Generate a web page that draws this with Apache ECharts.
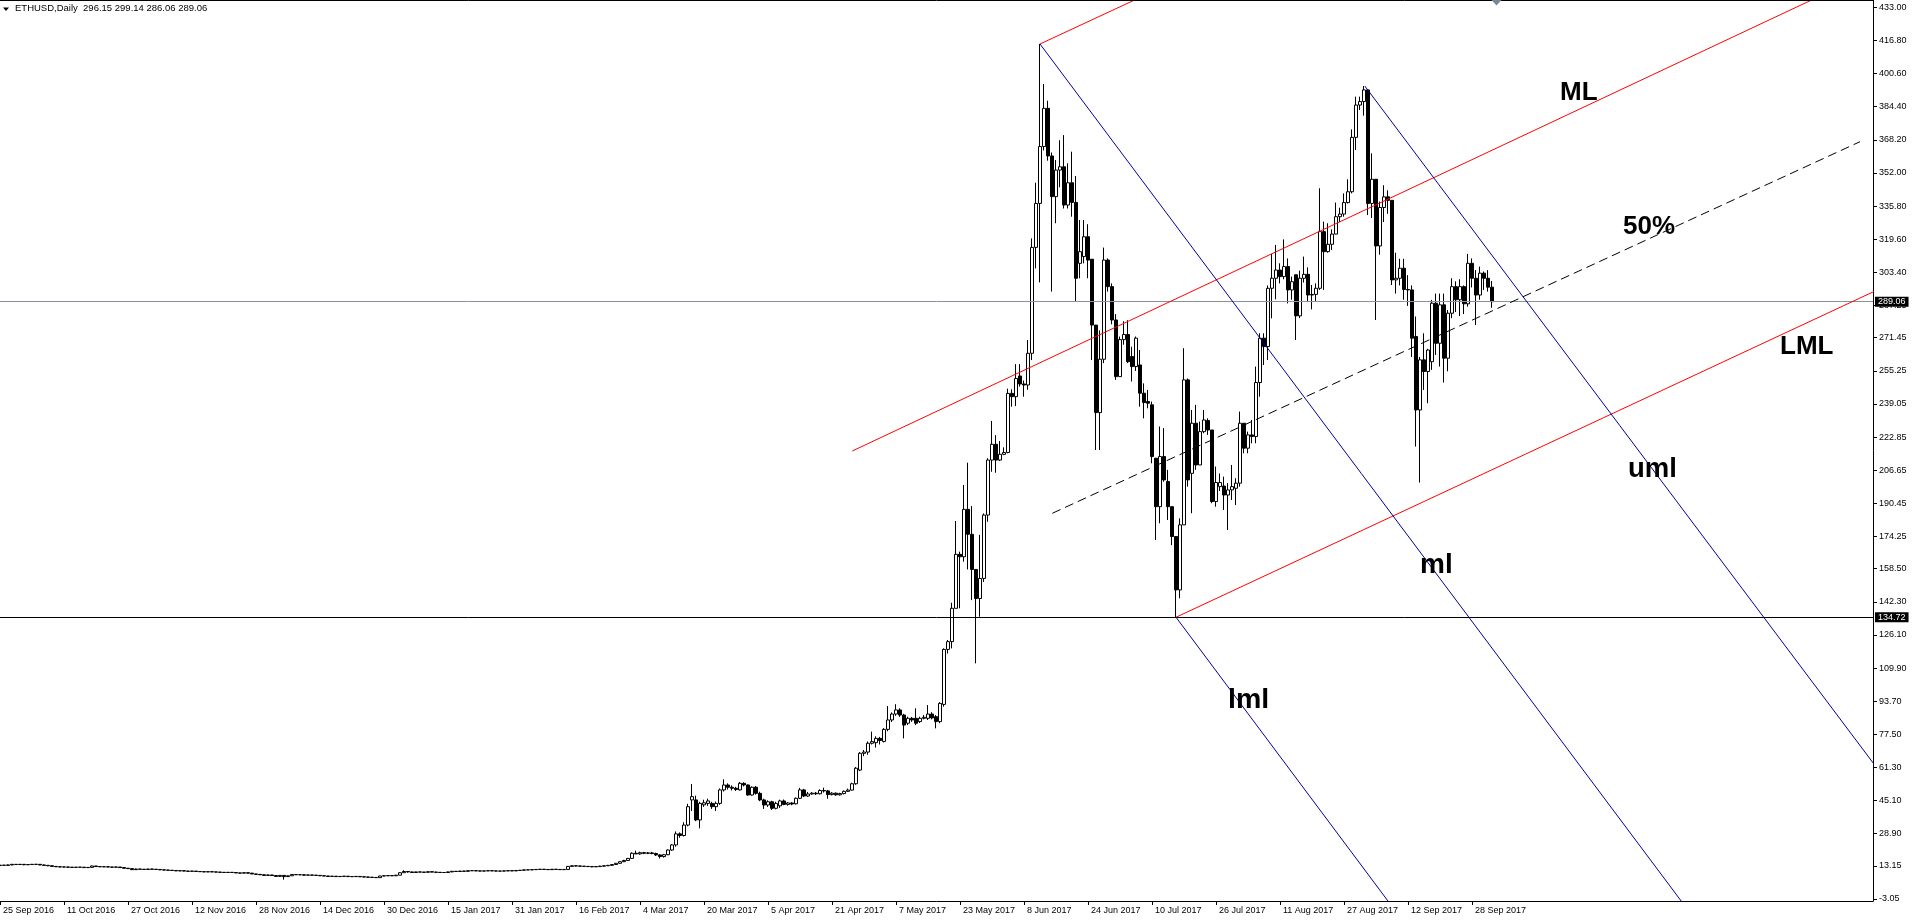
<!DOCTYPE html>
<html><head><meta charset="utf-8">
<script src="https://cdn.jsdelivr.net/npm/echarts@6/dist/echarts.min.js"></script>
<style>html,body{margin:0;padding:0;background:#fff;}#c{width:1913px;height:921px;}</style>
</head><body><div id="c"></div>
<script>
// ---- Data (daily ETHUSD bars, first bar = 25 Sep 2016, rows are [open, high, low, close]) ----
const xTickLabels = ["25 Sep 2016","11 Oct 2016","27 Oct 2016","12 Nov 2016","28 Nov 2016","14 Dec 2016","30 Dec 2016","15 Jan 2017","31 Jan 2017","16 Feb 2017","4 Mar 2017","20 Mar 2017","5 Apr 2017","21 Apr 2017","7 May 2017","23 May 2017","8 Jun 2017","24 Jun 2017","10 Jul 2017","26 Jul 2017","11 Aug 2017","27 Aug 2017","12 Sep 2017","28 Sep 2017"];
const yTickLabels = ["-3.05","13.15","28.90","45.10","61.30","77.50","93.70","109.90","126.10","142.30","158.50","174.25","190.45","206.65","222.85","239.05","255.25","271.45","287.25","303.40","319.60","335.80","352.00","368.20","384.40","400.60","416.80","433.00"];

const sep2016 = [[13.3,13.7,13.1,13.5],[13.5,13.6,13.2,13.4],[13.4,13.8,13.3,13.6],[13.6,14.1,13.5,13.9],[13.9,14.0,13.6,13.8],[13.8,14.1,13.7,13.9]];
const oct2016 = [[13.9,14.0,13.5,13.7],[13.7,13.9,13.6,13.8],[13.8,14.1,13.7,13.9],[13.9,14.0,13.7,13.9],[13.9,13.9,13.5,13.6],[13.6,13.7,13.3,13.4],[13.4,13.5,13.0,13.2],[13.2,13.3,12.8,12.9],[12.9,13.0,12.6,12.7],[12.7,12.8,12.5,12.6],[12.6,12.8,12.5,12.6],[12.6,12.7,12.4,12.5],[12.5,12.6,12.3,12.4],[12.4,12.6,12.3,12.5],[12.5,12.6,12.4,12.5],[12.5,12.5,12.2,12.3],[12.3,12.5,12.2,12.4],[12.4,13.3,12.4,13.1],[13.1,13.1,12.7,12.8],[12.8,12.9,12.6,12.7],[12.7,12.8,12.6,12.7],[12.7,12.7,12.5,12.6],[12.6,12.6,12.4,12.5],[12.5,12.7,12.4,12.6],[12.6,12.6,12.2,12.3],[12.3,12.3,11.9,12.0],[12.0,12.1,11.7,11.8],[11.8,11.9,11.1,11.3],[11.3,11.8,11.2,11.6],[11.6,11.7,11.4,11.5],[11.5,11.6,11.3,11.4]];
const nov2016 = [[11.4,11.7,11.3,11.6],[11.6,11.7,11.4,11.5],[11.5,11.6,11.3,11.4],[11.4,11.5,11.1,11.2],[11.2,11.3,11.0,11.1],[11.1,11.2,10.9,11.0],[11.0,11.1,10.8,10.9],[10.9,11.0,10.6,10.7],[10.7,10.9,10.6,10.8],[10.8,10.8,10.5,10.6],[10.6,10.7,10.4,10.5],[10.5,10.7,10.4,10.6],[10.6,10.6,10.3,10.4],[10.4,10.5,10.2,10.3],[10.3,10.4,10.1,10.2],[10.2,10.4,10.1,10.3],[10.3,10.3,10.1,10.2],[10.2,10.3,10.0,10.1],[10.1,10.2,9.9,10.0],[10.0,10.1,9.8,9.9],[9.9,10.1,9.8,10.0],[10.0,10.0,9.8,9.9],[9.9,10.0,9.6,9.7],[9.7,9.8,9.5,9.6],[9.6,9.9,9.5,9.8],[9.8,9.8,9.5,9.6],[9.6,9.7,9.1,9.2],[9.2,9.3,8.9,9.0],[9.0,9.1,8.7,8.8],[8.8,8.9,8.4,8.5]];
const dec2016 = [[8.5,8.9,8.4,8.7],[8.7,8.8,8.3,8.4],[8.4,8.5,7.8,8.0],[8.0,8.6,7.9,8.5],[8.5,8.6,6.4,7.9],[7.9,8.4,7.7,8.3],[8.3,9.1,8.2,8.9],[8.9,9.0,8.7,8.8],[8.8,8.9,8.7,8.8],[8.8,8.8,8.5,8.6],[8.6,8.8,8.5,8.7],[8.7,8.7,8.5,8.6],[8.6,8.7,8.4,8.5],[8.5,8.5,8.2,8.3],[8.3,8.4,8.1,8.2],[8.2,8.2,7.9,8.0],[8.0,8.2,7.9,8.1],[8.1,8.1,7.8,7.9],[7.9,8.1,7.8,8.0],[8.0,8.2,7.9,8.1],[8.1,8.1,7.8,7.9],[7.9,8.0,7.8,7.9],[7.9,8.1,7.8,8.0],[8.0,8.0,7.7,7.8],[7.8,7.9,7.6,7.7],[7.7,7.8,7.5,7.6],[7.6,7.7,7.4,7.5],[7.5,7.6,7.2,7.4],[7.4,8.3,7.4,8.2],[8.2,8.4,8.1,8.3],[8.3,8.5,8.2,8.4]];
const jan2017 = [[8.4,8.5,8.2,8.3],[8.3,8.7,8.2,8.6],[8.6,10.0,8.6,9.8],[9.8,11.0,9.7,10.4],[10.4,10.6,9.8,10.2],[10.2,10.3,9.7,9.9],[9.9,10.3,9.8,10.2],[10.2,10.3,10.0,10.1],[10.1,10.2,9.9,10.0],[10.0,10.4,9.9,10.3],[10.3,10.4,10.0,10.1],[10.1,10.2,9.9,10.0],[10.0,10.1,9.8,9.9],[9.9,10.0,9.8,9.9],[9.9,10.3,9.8,10.2],[10.2,10.6,10.1,10.5],[10.5,10.6,10.3,10.4],[10.4,10.7,10.3,10.6],[10.6,10.7,10.4,10.5],[10.5,10.9,10.4,10.8],[10.8,10.9,10.7,10.8],[10.8,10.9,10.6,10.7],[10.7,10.8,10.5,10.6],[10.6,10.8,10.5,10.7],[10.7,10.9,10.6,10.8],[10.8,10.8,10.6,10.7],[10.7,10.8,10.5,10.6],[10.6,10.7,10.5,10.6],[10.6,10.8,10.5,10.7],[10.7,10.9,10.6,10.8],[10.8,10.8,10.6,10.7]];
const feb2017 = [[10.7,11.0,10.6,10.9],[10.9,11.1,10.8,11.0],[11.0,11.3,10.9,11.2],[11.2,11.3,11.1,11.2],[11.2,11.4,11.1,11.3],[11.3,11.5,11.2,11.4],[11.4,11.6,11.3,11.5],[11.5,11.6,11.3,11.4],[11.4,11.5,11.2,11.3],[11.3,11.6,11.2,11.5],[11.5,11.6,11.3,11.4],[11.4,11.5,11.2,11.3],[11.3,11.5,11.2,11.4],[11.4,13.1,11.3,12.9],[12.9,13.4,12.8,13.2],[13.2,13.3,12.9,13.1],[13.1,13.2,12.8,13.0],[13.0,13.1,12.7,12.9],[12.9,13.0,12.6,12.8],[12.8,12.9,12.5,12.7],[12.7,13.0,12.6,12.8],[12.8,13.2,12.7,13.0],[13.0,13.4,12.9,13.2],[13.2,13.6,13.1,13.4],[13.4,14.0,13.3,13.8],[13.8,14.6,13.6,14.4],[14.4,15.4,14.2,15.2],[15.2,16.1,15.0,15.8]];
const mar2017 = [[15.8,17.0,15.6,16.8],[16.8,19.8,16.6,19.3],[19.3,20.6,18.9,19.0],[19.0,20.1,18.6,19.6],[19.6,20.0,18.9,19.3],[19.3,19.9,18.9,19.5],[19.5,20.0,18.8,19.2],[19.2,19.6,18.0,18.5],[18.5,18.8,16.8,17.7],[17.7,19.0,17.2,18.6],[18.6,21.2,18.4,20.9],[20.9,23.8,20.5,23.4],[23.4,30.0,22.5,28.8],[28.8,29.5,26.9,28.0],[28.0,34.5,27.5,33.1],[33.1,43.5,32.5,42.1],[45.4,53.2,40.0,47.0],[45.4,47.5,35.0,35.6],[35.6,44.5,31.5,43.7],[43.0,45.5,42.0,44.0],[43.7,46.0,42.5,44.9],[43.7,44.5,41.0,42.1],[42.1,44.6,40.0,43.7],[43.7,51.0,43.0,50.3],[50.3,55.5,49.5,52.7],[52.7,53.5,50.5,51.6],[51.6,52.5,50.0,51.1],[51.1,51.8,49.8,50.5],[50.3,54.2,50.0,53.5],[53.5,54.0,52.0,52.7],[52.7,53.0,47.5,47.8]];
const apr2017 = [[47.8,52.0,47.5,51.6],[51.6,52.2,48.0,48.6],[48.6,49.4,44.8,45.4],[45.4,46.0,41.0,42.9],[42.9,45.2,42.0,44.5],[44.5,45.0,40.5,41.3],[41.3,44.5,40.8,43.7],[42.5,45.5,41.5,44.9],[44.9,45.6,42.8,43.2],[43.2,44.4,42.6,43.9],[43.9,44.3,42.8,43.4],[43.5,46.6,43.2,46.2],[46.2,51.3,45.8,50.3],[50.3,50.8,46.8,47.3],[47.3,49.3,46.9,48.3],[48.3,49.2,48.0,48.7],[48.7,49.3,47.8,48.4],[48.4,50.6,48.1,50.0],[50.0,51.4,49.0,49.8],[49.8,50.3,46.0,48.0],[48.0,49.2,47.6,48.7],[48.7,49.0,47.4,47.9],[47.9,48.9,47.5,48.5],[48.5,50.0,48.1,49.6],[49.6,50.9,49.3,50.2],[50.2,53.8,50.0,53.3],[53.3,61.5,52.8,60.9],[60.0,68.8,59.5,68.2],[68.2,69.8,66.8,68.8],[68.8,74.0,67.5,73.1]];
const may2017 = [[73.1,78.8,72.5,73.9],[73.4,76.5,71.0,75.5],[75.5,76.2,72.5,74.5],[74.0,80.5,73.5,79.9],[79.9,91.3,79.0,84.5],[84.5,88.2,83.5,87.4],[87.4,92.2,86.5,89.4],[89.4,90.2,86.0,86.9],[86.9,87.5,75.5,82.0],[82.9,86.1,82.0,85.3],[85.3,86.0,83.6,84.5],[85.3,90.2,82.0,82.9],[83.7,86.1,83.0,85.3],[85.3,86.9,84.8,85.8],[85.3,91.8,84.5,87.4],[87.4,88.3,84.8,85.5],[86.1,86.9,80.4,83.7],[83.7,93.2,82.9,92.6],[92.1,119.5,91.0,119.0],[119.0,123.6,117.0,122.8],[122.8,141.8,119.5,139.1],[139.1,181.8,139.1,165.5],[165.5,166.8,139.1,164.3],[164.3,199.4,161.9,187.5],[187.5,210.3,158.1,175.3],[175.3,189.1,143.1,158.1],[158.1,158.1,112.2,143.9],[143.9,175.0,135.0,153.7],[153.7,185.5,152.0,184.7],[184.7,212.5,181.4,211.6],[211.6,230.7,205.9,219.3]];
const jun2017 = [[219.3,223.8,205.4,211.6],[211.6,220.9,211.1,214.4],[214.4,217.8,214.0,215.3],[215.3,246.5,214.9,244.2],[244.2,246.2,237.7,242.6],[242.6,258.5,238.0,251.5],[252.7,258.5,247.5,248.8],[248.8,250.5,242.6,248.3],[248.3,270.3,246.0,263.8],[263.8,320.0,260.5,315.6],[315.6,347.2,305.3,337.1],[337.1,415.1,298.5,364.9],[364.9,395.5,363.0,383.6],[383.6,387.3,358.0,360.3],[360.3,362.0,294.0,340.4],[340.4,358.3,327.4,353.4],[353.4,368.0,345.0,355.0],[355.0,370.5,334.6,336.3],[336.3,356.7,334.6,347.2],[347.2,362.4,330.6,337.6],[337.6,350.5,289.1,300.5],[307.8,329.0,300.5,313.5],[311.1,329.0,307.8,320.8],[320.8,326.9,300.5,309.4],[309.8,309.8,260.5,277.6],[277.6,277.6,216.5,234.8],[234.8,275.0,216.5,260.9],[260.9,315.5,259.0,309.4],[309.4,310.2,294.0,296.4],[296.4,298.0,278.0,280.1]];
const jul2017 = [[280.1,283.0,250.8,252.4],[252.4,272.0,252.4,270.5],[270.5,279.5,268.0,273.0],[273.0,280.0,259.0,259.7],[262.2,267.0,250.0,257.3],[257.3,272.0,255.2,271.2],[258.1,265.4,237.7,244.3],[244.3,249.1,232.0,239.7],[240.2,245.9,236.9,239.4],[238.6,240.2,210.0,213.3],[212.5,212.5,172.5,188.8],[188.8,228.0,180.7,213.3],[213.3,227.2,201.0,201.9],[201.1,206.8,182.3,188.8],[188.8,188.8,170.0,174.2],[174.2,174.2,134.72,148.1],[148.1,183.1,144.0,179.9],[179.9,266.3,179.9,250.8],[250.8,251.5,198.6,201.9],[205.1,236.1,185.6,229.6],[229.6,238.6,206.8,209.2],[209.2,230.4,209.2,225.5],[225.5,236.1,224.7,231.2],[230.9,232.0,223.9,226.3],[226.3,226.3,190.5,191.3],[191.3,208.4,188.8,200.6],[198.6,205.0,196.5,200.6],[198.9,203.5,187.2,194.5],[194.5,200.3,177.4,197.0],[197.0,209.2,192.1,198.6],[197.8,202.7,189.6,200.3]];
const aug2017 = [[200.3,235.3,198.6,229.6],[229.6,229.6,214.9,217.4],[217.4,225.5,214.9,223.9],[223.9,231.2,219.8,223.1],[223.1,257.3,219.8,249.5],[249.5,273.6,242.6,271.2],[271.2,273.6,258.1,267.1],[267.1,297.0,260.5,295.6],[295.6,312.4,280.9,300.5],[300.5,316.8,290.2,304.5],[304.5,307.8,298.0,301.3],[301.3,319.5,300.0,306.2],[306.2,310.2,288.2,294.8],[294.8,301.3,290.0,298.8],[302.2,302.2,270.3,282.1],[282.1,304.2,281.0,300.5],[300.5,311.1,298.4,302.4],[302.4,305.8,289.1,292.3],[292.3,297.2,285.3,292.6],[292.6,298.0,289.1,295.6],[295.6,344.5,294.8,323.3],[323.3,328.2,294.8,313.5],[313.5,327.4,313.0,317.1],[317.1,324.4,314.3,322.1],[322.1,337.5,322.0,330.6],[330.6,335.0,328.0,331.9],[331.9,342.0,330.6,337.5],[337.5,348.9,337.1,342.8],[342.8,373.3,342.0,369.4],[369.4,389.3,363.2,385.2],[385.2,389.3,382.8,386.9]];
const sep2017 = [[386.9,394.5,380.0,392.6],[392.6,392.6,331.4,337.1],[337.1,361.6,330.0,348.9],[348.9,348.9,280.1,316.3],[316.3,338.0,312.0,335.1],[335.1,346.0,328.0,340.3],[340.3,343.5,332.0,338.6],[338.6,338.6,297.2,299.7],[299.7,313.0,293.0,300.5],[300.5,310.0,297.0,305.4],[305.4,310.0,290.0,295.0],[295.0,302.0,287.0,294.8],[294.8,297.0,262.0,271.2],[272.0,281.8,218.2,236.1],[236.1,262.0,200.6,260.6],[260.6,273.6,245.9,254.9],[254.9,266.0,239.4,265.4],[259.7,289.9,255.7,288.3],[288.3,293.0,263.0,268.7],[268.7,293.0,257.3,287.5],[287.5,293.0,249.5,261.4],[261.4,285.0,255.0,283.4],[283.4,300.5,281.0,296.4],[296.4,299.0,284.0,290.0],[290.0,300.0,282.0,296.4],[296.4,297.0,283.0,288.0],[288.0,312.4,286.6,307.8],[307.8,310.2,296.0,300.5],[300.5,304.5,277.6,292.3],[292.3,306.2,290.0,303.0]];
const oct2017 = [[303.0,303.8,294.8,300.5],[300.5,304.5,294.0,296.15],[296.15,299.14,286.06,289.06]];

const bidPrice = 289.06;
const lowLevel = 134.72;

// pitchfork lines: [dayIndex, price] endpoints
const redTopLine = [[260, 415.05], [300, 451.45]];
const redMedianLine = [[213.08, 216.03], [460, 443.1]];
const redLowerLine = [[294, 134.72], [470, 295.4]];
const halfLine = [[263.08, 185.56], [465, 367.28]];
const blueMedianLine = [[260, 415.05], [430, -29.4]];
const blueUpperLine = [[341.2, 394.5], [470, 59.0]];
const blueLowerLine = [[294, 134.72], [355, -25.0]];

// ---- Build ----
const months = [sep2016, oct2016, nov2016, dec2016, jan2017, feb2017, mar2017, apr2017, may2017, jun2017, jul2017, aug2017, sep2017, oct2017];
const candles = [];
months.forEach(m => m.forEach(r => { candles.push([candles.length, r[0], r[3], r[2], r[1]]); }));

const FONT = '"Liberation Sans", Arial, sans-serif';
const chart = echarts.init(document.getElementById('c'));

function lineSeries(data, color, type) {
  return { type: 'line', data: data, symbol: 'none', silent: true, clip: true, z: 5,
    lineStyle: { color: color, width: 1, type: type || 'solid' }, animation: false };
}

function bigText(txt, x, y, size) {
  return { type: 'text', x: x, y: y, z: 100, silent: true,
    style: { text: txt, font: 'bold ' + size + 'px ' + FONT, fill: '#000', align: 'left', verticalAlign: 'middle' } };
}

chart.setOption({
  animation: false,
  backgroundColor: '#fff',
  grid: { left: 0, right: 40, top: 0, bottom: 20, containLabel: false },
  xAxis: {
    type: 'value', min: 0, max: 468.25,
    axisLine: { show: true, onZero: false, lineStyle: { color: '#000', width: 1 } },
    axisTick: { show: true, length: 4, lineStyle: { color: '#000' }, customValues: xTickLabels.map((s, k) => k * 16) },
    axisLabel: { show: true, color: '#000', fontSize: 9, fontFamily: FONT, align: 'left', margin: 5, padding: [0, 0, 0, 3],
      customValues: xTickLabels.map((s, k) => k * 16),
      formatter: v => { const k = Math.round(v / 16); return xTickLabels[k] || ''; } },
    splitLine: { show: false }
  },
  yAxis: {
    type: 'value', position: 'right', min: -4.03, max: 436.57, scale: true,
    axisLine: { show: true, onZero: false, lineStyle: { color: '#000', width: 1 } },
    axisTick: { show: true, length: 4, lineStyle: { color: '#000' }, customValues: yTickLabels.map(s => parseFloat(s)) },
    axisLabel: { show: true, color: '#000', fontSize: 9, fontFamily: FONT, margin: 6,
      customValues: yTickLabels.map(s => parseFloat(s)),
      formatter: v => { const s = yTickLabels.find(t => Math.abs(parseFloat(t) - v) < 1e-6); return s || ''; } },
    splitLine: { show: false }
  },
  series: [
    {
      type: 'candlestick', data: candles, encode: { x: 0, y: [1, 2, 3, 4] },
      barWidth: 3, clip: true, z: 2,
      itemStyle: { color: '#ffffff', color0: '#000000', borderColor: '#000000', borderColor0: '#000000', borderColorDoji: '#000000', borderWidth: 1 },
      markLine: {
        silent: true, symbol: ['none', 'none'], animation: false, precision: 2,
        data: [
          { yAxis: bidPrice, lineStyle: { color: '#8a929c', width: 1, type: 'solid' } },
          { yAxis: lowLevel, lineStyle: { color: '#000000', width: 1, type: 'solid' } }
        ],
        label: { show: true, position: 'end', distance: 2, formatter: p => Number(p.value).toFixed(2),
          color: '#fff', backgroundColor: '#000', padding: [1, 3, 0, 3], fontSize: 9, fontFamily: FONT }
      }
    },
    lineSeries(redTopLine, '#ff0000'),
    lineSeries(redMedianLine, '#ff0000'),
    lineSeries(redLowerLine, '#ff0000'),
    lineSeries(halfLine, '#000000', [9, 5]),
    lineSeries(blueMedianLine, '#00009c'),
    lineSeries(blueUpperLine, '#00009c'),
    lineSeries(blueLowerLine, '#00009c')
  ],
  graphic: [
    { type: 'line', silent: true, z: 50, shape: { x1: 0, y1: 0.5, x2: 1873, y2: 0.5 }, style: { stroke: '#000', lineWidth: 1 } },
    { type: 'polygon', silent: true, z: 50, shape: { points: [[3, 7.5], [9, 7.5], [6, 11]] }, style: { fill: '#000' } },
    { type: 'text', x: 15, y: 8.5, z: 50, silent: true,
      style: { text: 'ETHUSD,Daily  296.15 299.14 286.06 289.06', font: '9.5px ' + FONT, fill: '#000', align: 'left', verticalAlign: 'middle' } },
    { type: 'polygon', silent: true, z: 50, shape: { points: [[1491.5, 0], [1501.5, 0], [1496.5, 5.5]] }, style: { fill: '#7a8796' } },
    bigText('ML', 1560, 93, 26),
    bigText('50%', 1623, 227, 26),
    bigText('LML', 1780, 347, 26),
    bigText('uml', 1628, 469, 27.5),
    bigText('ml', 1420, 565, 28),
    bigText('lml', 1228, 700, 28.5)
  ]
});
</script>
</body></html>
